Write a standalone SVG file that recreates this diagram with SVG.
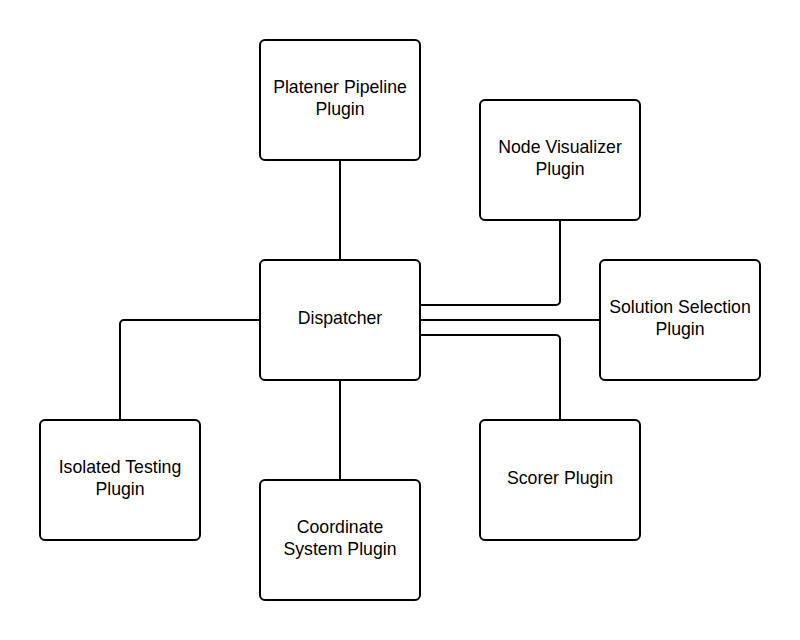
<svg xmlns="http://www.w3.org/2000/svg" width="800" height="640" viewBox="0 0 800 640">
<style>
.n rect{fill:#fff;stroke:#000;stroke-width:2}
.n text{font-family:"Liberation Sans",Arial,sans-serif;font-size:17.7px;text-anchor:middle;fill:#000}
#connectors path{fill:none;stroke:#000;stroke-width:2;stroke-linejoin:round}
</style>
<rect width="800" height="640" fill="#fff"/>
<g id="connectors">
<path d="M340 160V260"/>
<path d="M560 220V301a4 4 0 0 1-4 4H420"/>
<path d="M420 320H600"/>
<path d="M420 335H556a4 4 0 0 1 4 4V420"/>
<path d="M260 320H124a4 4 0 0 0-4 4V420"/>
<path d="M340 380V480"/>
</g>
<g id="platener" class="n"><rect x="260" y="40" width="160" height="120" rx="5"/><text x="340" y="93">Platener Pipeline</text><text x="340" y="115">Plugin</text></g>
<g id="nodevis" class="n"><rect x="480" y="100" width="160" height="120" rx="5"/><text x="560" y="153">Node Visualizer</text><text x="560" y="175">Plugin</text></g>
<g id="dispatcher" class="n"><rect x="260" y="260" width="160" height="120" rx="5"/><text x="340" y="324">Dispatcher</text></g>
<g id="solution" class="n"><rect x="600" y="260" width="160" height="120" rx="5"/><text x="680" y="313">Solution Selection</text><text x="680" y="335">Plugin</text></g>
<g id="isolated" class="n"><rect x="40" y="420" width="160" height="120" rx="5"/><text x="120" y="473">Isolated Testing</text><text x="120" y="495">Plugin</text></g>
<g id="scorer" class="n"><rect x="480" y="420" width="160" height="120" rx="5"/><text x="560" y="484">Scorer Plugin</text></g>
<g id="coordinate" class="n"><rect x="260" y="480" width="160" height="120" rx="5"/><text x="340" y="533">Coordinate</text><text x="340" y="555">System Plugin</text></g>
</svg>
